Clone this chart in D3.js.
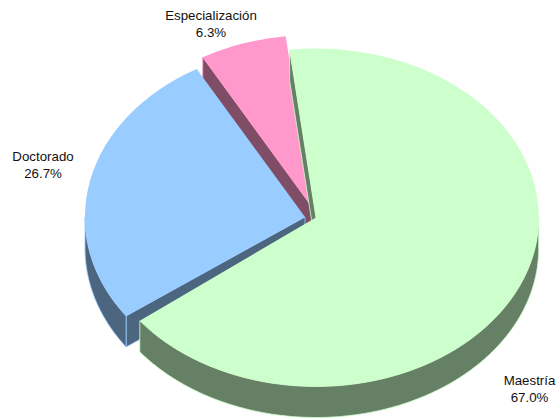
<!DOCTYPE html>
<html>
<head>
<meta charset="utf-8">
<script src="https://cdn.jsdelivr.net/npm/d3@7"></script>
<style>
    body { margin: 0; background: #fff; }
    svg { display: block; }
    text { font-family: "Liberation Sans", Arial, sans-serif; font-size: 13.3px; fill: #111; text-anchor: middle; }
</style>
</head>
<body>
<div id="chart"></div>
<script>
// values
const categories = ['Maestría', 'Doctorado', 'Especialización'];
const percents = [67.0, 26.7, 6.3];
const faceColors = ['#ccffcc', '#99ccff', '#ff99cc'];
const wallColors = ['#668066', '#4d6680', '#804d66'];

const width = 557, height = 419;
const depth = 31;
const deg = d => d * Math.PI / 180;

// each slice is pulled out of the pie a bit, so each has its own centre
// endTrim: the exploded green slice stops a little short of the blue one
const slices = [
    {cx: 316, cy: 217.5, rx: 222.7, ry: 169, endTrim: deg(2.1), labelX: 529.5, labelY: 385},
    {cx: 305, cy: 217, rx: 220, ry: 170, endTrim: 0, labelX: 43, labelY: 161},
    {cx: 312, cy: 207, rx: 222, ry: 172, endTrim: 0, labelX: 211, labelY: 20}
];

const svg = d3.select('#chart')
    .append('svg')
    .attr('width', width)
    .attr('height', height);

const pie = d3.pie()
    .sort(null)
    .startAngle(deg(-6.8))
    .endAngle(deg(353.2));

const arcs = pie(percents);

// draw back to front: pink, blue, green
d3.range(arcs.length).reverse().forEach(i => {
    const s = slices[i];
    const a = Object.assign({}, arcs[i], {endAngle: arcs[i].endAngle - s.endTrim});
    const g = svg.append('g');
    const px = t => s.cx + s.rx * Math.sin(t);
    const py = t => s.cy - s.ry * Math.cos(t);

    const wall = d3.area()
        .x(r => r.x)
        .y0(r => r.y)
        .y1(r => r.y + depth);

    // straight cut wall, only the one at the start of a slice faces the viewer
    g.append('path')
        .attr('d', wall([{x: s.cx, y: s.cy}, {x: px(a.startAngle), y: py(a.startAngle)}]))
        .attr('fill', wallColors[i])
        .attr('stroke', faceColors[i])
        .attr('stroke-width', 0.8);

    // outer wall, only the front half of the ellipse can be seen
    const from = Math.max(a.startAngle, deg(90));
    const to = Math.min(a.endAngle, deg(270));
    if (to > from) {
        const rim = d3.range(from, to, 0.01).concat(to)
            .map(t => ({x: px(t), y: py(t)}));
        g.append('path')
            .attr('d', wall(rim))
            .attr('fill', wallColors[i])
            .attr('stroke', faceColors[i])
            .attr('stroke-width', 0.8);
    }

    // top face
    const arc = d3.arc().innerRadius(0).outerRadius(s.rx);
    g.append('path')
        .attr('transform', `translate(${s.cx},${s.cy}) scale(1,${s.ry / s.rx})`)
        .attr('d', arc(a))
        .attr('fill', faceColors[i]);
});

// labels
const labels = svg.selectAll('.label')
    .data(categories)
    .enter()
    .append('text')
    .attr('class', 'label')
    .attr('transform', (d, i) => `translate(${slices[i].labelX},${slices[i].labelY})`);

labels.append('tspan')
    .attr('x', 0)
    .text(d => d);

labels.append('tspan')
    .attr('x', 0)
    .attr('dy', 17)
    .text((d, i) => percents[i].toFixed(1) + '%');
</script>
</body>
</html>
